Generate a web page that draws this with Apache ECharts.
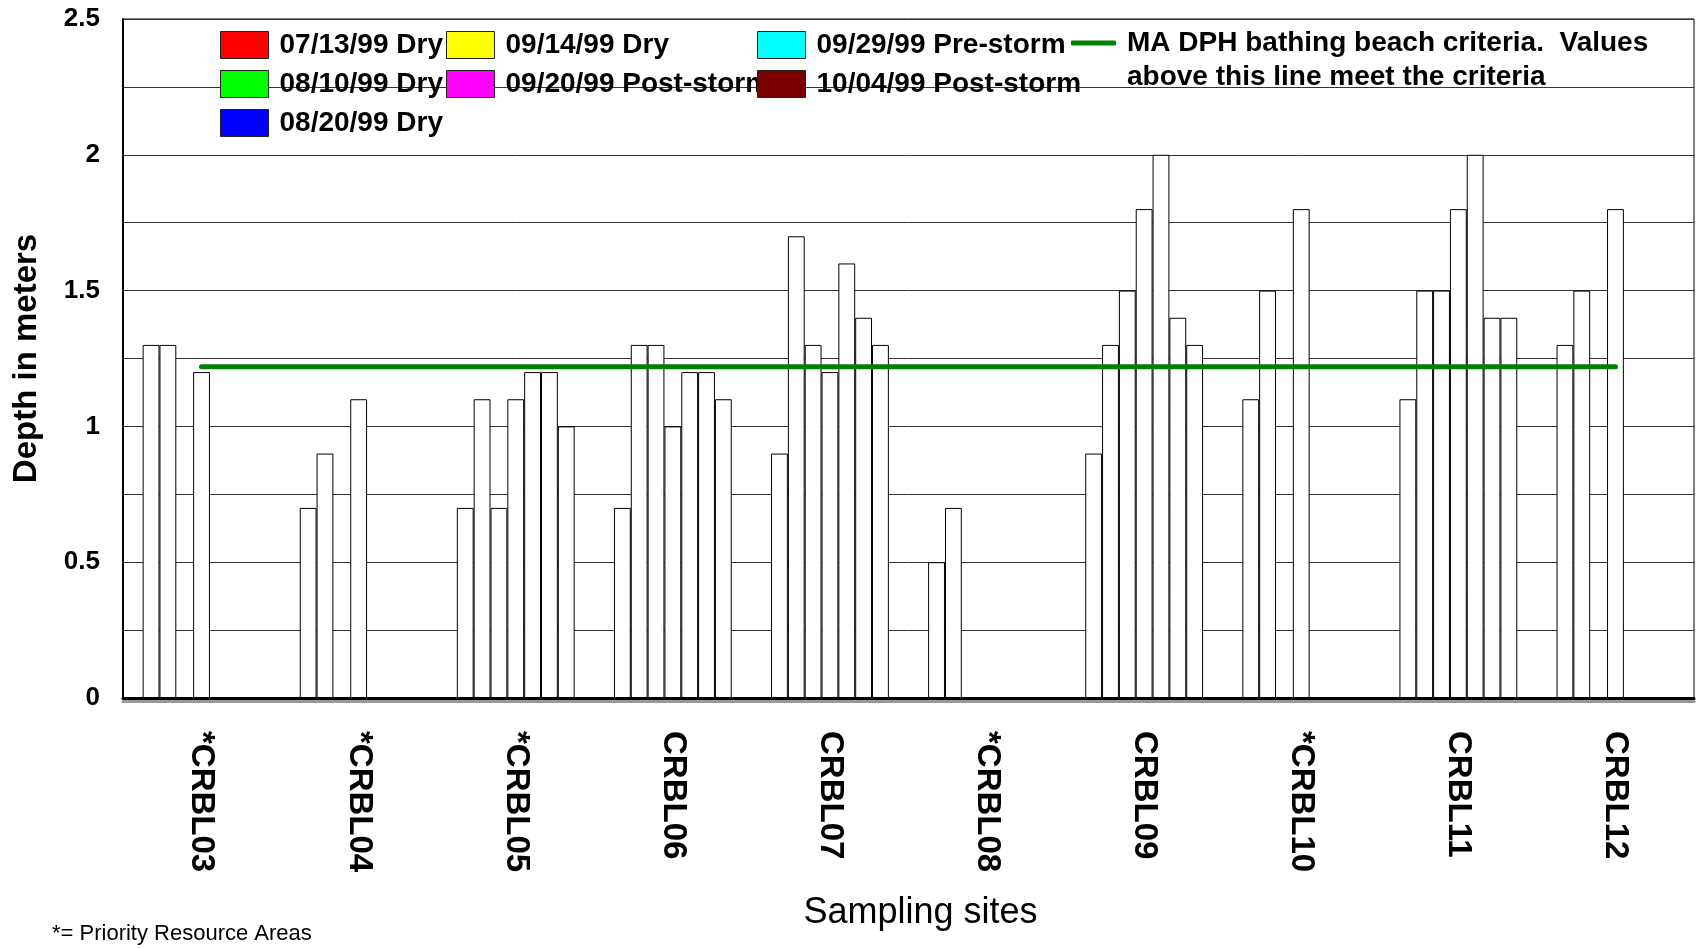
<!DOCTYPE html>
<html>
<head>
<meta charset="utf-8">
<script src="https://cdn.jsdelivr.net/npm/echarts@6/dist/echarts.min.js"></script>
<style>
  html, body { margin: 0; padding: 0; background: #fff; }
  #chart { width: 1696px; height: 949px; }
</style>
</head>
<body>
<div id="chart"></div>
<script>
// sampling sites
var sites = ['*CRBL03', '*CRBL04', '*CRBL05', 'CRBL06', 'CRBL07', '*CRBL08', 'CRBL09', '*CRBL10', 'CRBL11', 'CRBL12'];

// depth in meters per sampling date (null = not sampled)
var d0713 = [1.3, 0.7, 0.7, 0.7, 0.9, 0.5, 0.9, 1.1, 1.1, 1.3];
var d0810 = [1.3, 0.9, 1.1, 1.3, 1.7, 0.7, 1.3, 1.5, 1.5, 1.5];
var d0820 = [null, null, 0.7, 1.3, 1.3, null, 1.5, null, 1.5, null];
var d0914 = [1.2, 1.1, 1.1, 1.0, 1.2, null, 1.8, 1.8, 1.8, 1.8];
var d0920 = [null, null, 1.2, 1.2, 1.6, null, 2.0, null, 2.0, null];
var d0929 = [null, null, 1.2, 1.2, 1.4, null, 1.4, null, 1.4, null];
var d1004 = [null, null, 1.0, 1.1, 1.3, null, 1.3, null, 1.4, null];

// MA DPH bathing beach criteria (4 ft)
var criteria = [1.22, 1.22, 1.22, 1.22, 1.22, 1.22, 1.22, 1.22, 1.22, 1.22];

var names = ['07/13/99 Dry', '08/10/99 Dry', '08/20/99 Dry', '09/14/99 Dry',
             '09/20/99 Post-storm', '09/29/99 Pre-storm', '10/04/99 Post-storm'];
var legendColors = ['#ff0000', '#00ff00', '#0000ff', '#ffff00', '#ff00ff', '#00ffff', '#7a0000'];
var critName = 'MA DPH bathing beach criteria.  Values\nabove this line meet the criteria';

var font = '"Liberation Sans", Arial, sans-serif';
var allData = [d0713, d0810, d0820, d0914, d0920, d0929, d1004];

function legendItems(idx) {
    var arr = [];
    for (var i = 0; i < idx.length; i++) {
        arr.push({
            name: names[idx[i]],
            itemStyle: { color: legendColors[idx[i]], borderColor: '#222', borderWidth: 1 }
        });
    }
    return arr;
}

function makeLegend(left, idx) {
    return {
        left: left,
        top: 31,
        orient: 'vertical',
        padding: 0,
        itemGap: 11,
        itemWidth: 48,
        itemHeight: 27,
        selectedMode: false,
        icon: 'rect',
        data: legendItems(idx),
        textStyle: { fontFamily: font, fontSize: 28, fontWeight: 'bold', color: '#000', padding: [0, 0, 0, 6] }
    };
}

var series = [];
for (var i = 0; i < names.length; i++) {
    series.push({
        name: names[i],
        type: 'bar',
        data: allData[i],
        barGap: '0%',
        barCategoryGap: '25%',
        itemStyle: { color: '#fff', borderColor: '#000', borderWidth: 1 }
    });
}
series.push({
    name: critName,
    type: 'line',
    data: criteria,
    symbol: 'none',
    z: 5,
    color: '#008000',
    lineStyle: { color: '#008000', width: 5, cap: 'round' }
});

var myChart = echarts.init(document.getElementById('chart'));
var option = {
    animation: false,
    backgroundColor: '#fff',
    grid: {
        left: 123,
        right: 2,
        top: 19,
        bottom: 251,
        show: true,
        borderColor: '#000',
        borderWidth: 1
    },
    legend: [
        makeLegend(220, [0, 1, 2]),
        makeLegend(446, [3, 4]),
        makeLegend(757, [5, 6]),
        {
            left: 1071,
            top: -8,
            padding: 0,
            itemWidth: 45,
            itemHeight: 5,
            icon: 'roundRect',
            selectedMode: false,
            data: [{ name: critName, itemStyle: { color: '#008000' } }],
            formatter: function (name) {
                // blank first line keeps the icon level with the first text line
                return '\n' + name;
            },
            textStyle: { fontFamily: font, fontSize: 28, fontWeight: 'bold', color: '#000', lineHeight: 34, padding: [0, 0, 0, 6] }
        }
    ],
    xAxis: {
        type: 'category',
        data: sites,
        name: 'Sampling sites',
        nameLocation: 'middle',
        nameGap: 197,
        nameTextStyle: { fontFamily: font, fontSize: 36, color: '#000', padding: [0, 0, 0, 24] },
        axisLine: { lineStyle: { color: '#000', width: 3, shadowColor: '#999', shadowOffsetY: 3 } },
        axisTick: { show: false },
        axisLabel: {
            interval: 0,
            rotate: -90,
            margin: 33,
            fontFamily: font,
            fontSize: 33,
            fontWeight: 'bold',
            color: '#000'
        }
    },
    yAxis: {
        type: 'value',
        min: 0,
        max: 2.5,
        interval: 0.25,
        name: 'Depth in meters',
        nameLocation: 'middle',
        nameGap: 80,
        nameRotate: 90,
        nameTextStyle: { fontFamily: font, fontSize: 33, fontWeight: 'bold', color: '#000' },
        axisLine: { show: true, lineStyle: { color: '#000', width: 2 } },
        axisTick: { show: false },
        splitLine: { lineStyle: { color: '#333', width: 1 } },
        axisLabel: {
            margin: 23,
            fontFamily: font,
            fontSize: 26,
            fontWeight: 'bold',
            color: '#000',
            formatter: function (v) {
                return Math.round(v * 100) % 50 === 0 ? String(v) : '';
            }
        }
    },
    graphic: [{
        type: 'text',
        left: 52,
        top: 923,
        style: { text: '*= Priority Resource Areas', font: '22px ' + font, fill: '#000' }
    }],
    series: series
};

myChart.setOption(option);
</script>
</body>
</html>
